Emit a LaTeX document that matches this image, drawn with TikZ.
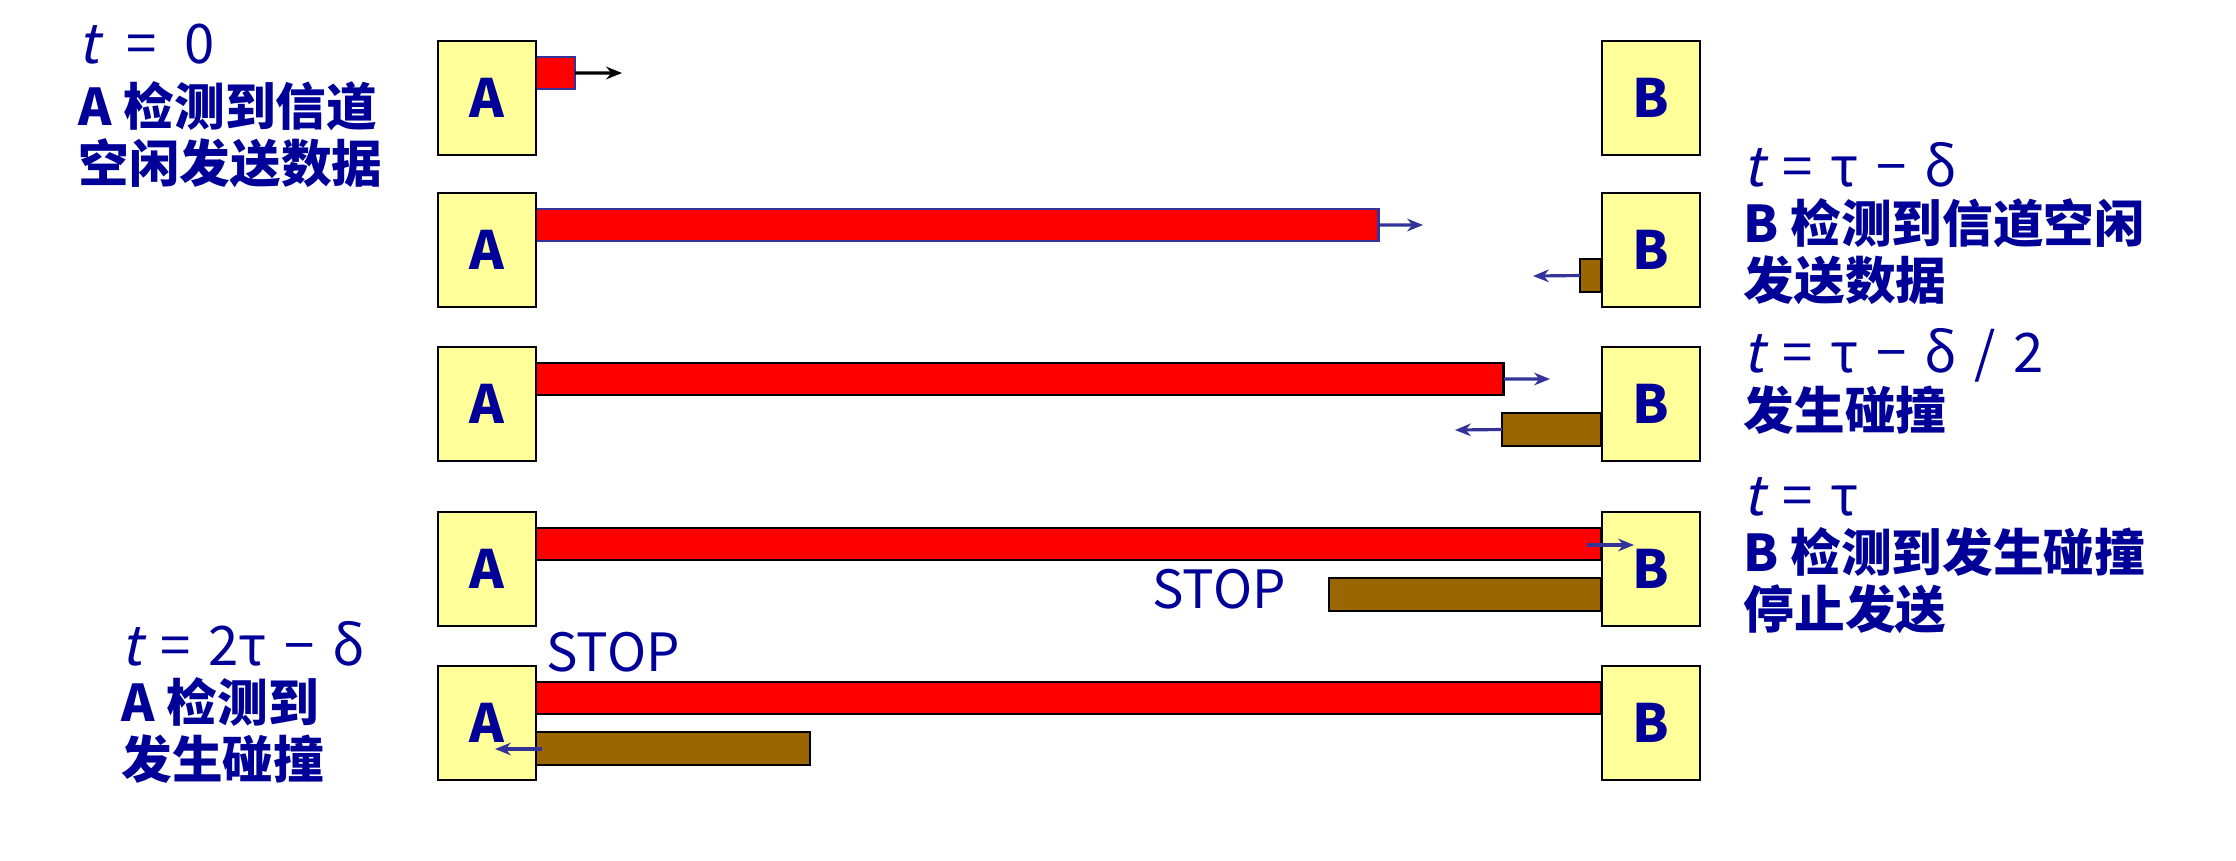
\documentclass[tikz,border=0pt]{standalone}
\usepackage{fontspec}
\setmainfont{Noto Sans CJK SC}
\newfontfamily\slantfam{Noto Sans CJK SC}[FakeSlant=0.22]
\usepackage{tikz}
\usetikzlibrary{arrows.meta, positioning}

\definecolor{txtblue}{HTML}{000099}
\definecolor{boxyellow}{HTML}{FFFF99}
\definecolor{barbrown}{HTML}{996600}
\definecolor{sigblue}{HTML}{333399}

\newcommand{\tvar}{{\slantfam t}}
\newcommand{\gp}{\ \hspace{1.6pt}}

\begin{document}
\begin{tikzpicture}[
x=0.01cm, y=-0.01cm,
station/.style={rectangle, draw=black, line width=0.7pt, fill=boxyellow, minimum width=0.98cm, minimum height=1.14cm, inner sep=0pt, text=txtblue, font=\fontsize{15}{15}\selectfont\bfseries},
redbar/.style={rectangle, draw=black, line width=0.7pt, fill=red, minimum height=0.32cm, inner sep=0pt, outer sep=0pt},
brownbar/.style={rectangle, draw=black, line width=0.7pt, fill=barbrown, minimum height=0.33cm, inner sep=0pt, outer sep=0pt},
sig/.style={-{Stealth[length=4.5pt,width=3.6pt]}, line width=0.9pt, draw=sigblue},
note/.style={anchor=base west, align=left, inner sep=0pt, text=txtblue, font=\fontsize{14.4}{16}\selectfont\bfseries},
stoplbl/.style={inner sep=0pt, text=txtblue, font=\fontsize{15}{15}\selectfont},
]
\useasboundingbox (0,0) rectangle (2236,860);

% t = 0
\node[redbar, minimum width=0.39cm, anchor=north west, draw=sigblue] (r1) at (536,57) {};
\node[station] (A1) at (487,98)  {A};
\node[station] (B1) at (1651,98) {B};
\coordinate (e1) at (622,73);
\draw[sig, draw=black] (r1.east) -- (e1);

% t = tau - delta
\node[redbar, minimum width=8.42cm, anchor=north west, draw=sigblue] (r2) at (536,209) {};
\node[brownbar, minimum width=0.21cm, anchor=north east] (b2) at (1601,259) {};
\node[station] (A2) at (487,250)  {A};
\node[station] (B2) at (1651,250) {B};
\coordinate (e2) at (1423,225);
\coordinate (w2) at (1533,276);
\draw[sig] (r2.east) -- (e2);
\draw[sig] (b2.west) -- (w2);

% t = tau - delta/2
\node[redbar, minimum width=9.67cm, anchor=north west] (r3) at (536,363) {};
\node[brownbar, minimum width=0.99cm, anchor=north east] (b3) at (1601,413) {};
\node[station] (A3) at (487,404)  {A};
\node[station] (B3) at (1651,404) {B};
\coordinate (e3) at (1550,379);
\coordinate (w3) at (1455,430);
\draw[sig] (r3.east) -- (e3);
\draw[sig] (b3.west) -- (w3);

% t = tau
\node[redbar, minimum width=10.65cm, anchor=north west] (r4) at (536,528) {};
\node[brownbar, minimum width=2.72cm, anchor=north east] (b4) at (1601,578) {};
\node[station] (A4) at (487,569)  {A};
\node[station] (B4) at (1651,569) {B};
\node[stoplbl] (stop4) at (1219,589) {STOP};
\coordinate (s4) at (1587,545);
\coordinate (e4) at (1634,545);
\draw[sig] (s4) -- (e4);

% t = 2tau - delta
\node[redbar, minimum width=10.65cm, anchor=north west] (r5) at (536,682) {};
\node[brownbar, minimum width=2.74cm, anchor=north west] (b5) at (536,732) {};
\node[station] (A5) at (487,723)  {A};
\node[station] (B5) at (1651,723) {B};
\node[stoplbl] (stop5) at (613,652) {STOP};
\coordinate (s5) at (542,749);
\coordinate (w5) at (495,749);
\draw[sig] (s5) -- (w5);

% notes (anchored on the baseline of the last line)
\node[note] (n1) at (78,182)   {{\fontsize{15.5}{16}\selectfont\mdseries\tvar\enspace=\enspace0}\\[0.06cm]A 检测到信道\\空闲发送数据};
\node[note] (n2) at (1743,299) {{\fontsize{15.5}{16}\selectfont\mdseries\tvar\gp=\gp τ\gp−\gp δ}\\B 检测到信道空闲\\发送数据};
\node[note] (n3) at (1743,429) {{\fontsize{15.5}{16}\selectfont\mdseries\tvar\gp=\gp τ\gp−\gp δ\gp/\gp2}\\发生碰撞};
\node[note] (n4) at (1743,628) {{\fontsize{15.5}{16}\selectfont\mdseries\tvar\gp=\gp τ}\\B 检测到发生碰撞\\停止发送};
\node[note] (n5) at (121,778)  {{\fontsize{15.5}{16}\selectfont\mdseries\tvar\gp=\gp 2τ\gp−\gp δ}\\A 检测到\\发生碰撞};

\end{tikzpicture}
\end{document}
